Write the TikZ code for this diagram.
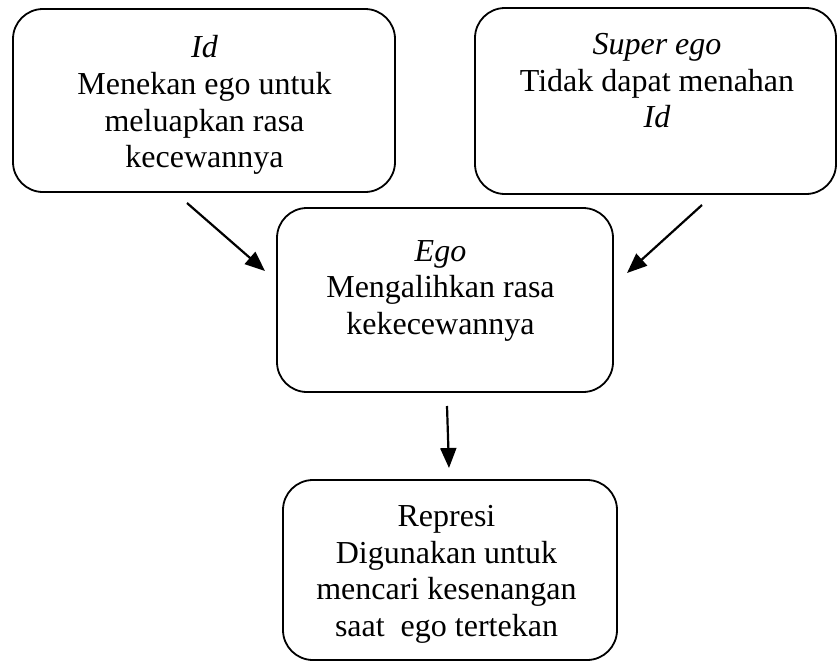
\documentclass[tikz,border=0pt]{standalone}
\usepackage{fontspec}
\setmainfont{Liberation Serif}
\usetikzlibrary{arrows.meta}

\tikzset{
  stagebox/.style={draw=black, line width=1.8pt, rounded corners=30pt,
    inner sep=0pt, outer sep=0pt},
  stagetext/.style={anchor=north, align=center, inner sep=0pt,
    font=\fontsize{32pt}{36.8pt}\selectfont},
  flow/.style={line width=2.2pt, -{Triangle[length=20pt,width=16pt]}}
}

\begin{document}
\begin{tikzpicture}[x=1pt,y=-1pt]
  \useasboundingbox (0,0) rectangle (838,662);

  % frames of the four stages
  \node[stagebox, minimum width=382pt, minimum height=183pt] (idbox)   at (204,100.5) {};
  \node[stagebox, minimum width=361pt, minimum height=186pt] (supbox)  at (655.5,101) {};
  \node[stagebox, minimum width=336pt, minimum height=184pt] (egobox)  at (445,300) {};
  \node[stagebox, minimum width=334pt, minimum height=180pt] (repbox)  at (450,570) {};

  % labels inside the frames
  \node[stagetext] (idtext) at (204.5,35)
    {\textit{Id}\\Menekan ego untuk\\meluapkan rasa\\kecewannya};
  \node[stagetext] (suptext) at (657,33)
    {\textit{Super ego}\\Tidak dapat menahan\\\textit{Id}};
  \node[stagetext] (egotext) at (440.5,240)
    {\textit{Ego}\\Mengalihkan rasa\\kekecewannya};
  \node[stagetext] (reptext) at (446.5,505)
    {Represi\\Digunakan untuk\\mencari kesenangan\\saat\ \ ego tertekan};

  % arrow end points
  \coordinate (idout)  at (187,203);
  \coordinate (egoinl) at (265,271);
  \coordinate (supout) at (702,205);
  \coordinate (egoinr) at (627,273);
  \coordinate (egoout) at (447,406);
  \coordinate (repin)  at (449,468);

  \draw[flow] (idout) -- (egoinl);
  \draw[flow] (supout) -- (egoinr);
  \draw[flow] (egoout) -- (repin);
\end{tikzpicture}
\end{document}
